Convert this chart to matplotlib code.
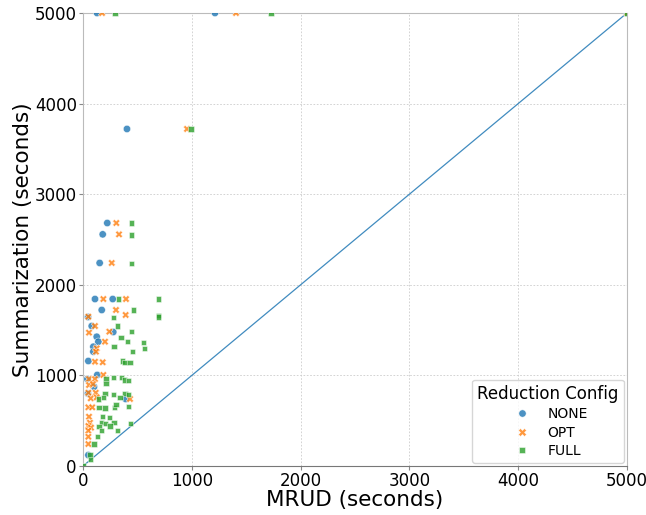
import matplotlib
matplotlib.use("Agg")
import matplotlib.pyplot as plt
import pandas as pd
import seaborn as sns

# MRUD time (x) and summarization time (y), seconds, per reduction config
none_x = [129, 1213, 5000, 404, 223, 181, 153, 110, 273, 172, 46, 80, 278, 126,
          141, 95, 95, 49, 131, 101, 392, 49, 40, 45]
none_y = [5000, 5000, 5000, 3720, 2682, 2557, 2241, 1843, 1843, 1722, 1645, 1545,
          1479, 1427, 1372, 1317, 1262, 1159, 1005, 875, 740, 121, 960, 800]

opt_x = [175, 1406, 5000, 956, 306, 331, 264, 187, 395, 303, 49, 392, 110, 55,
         242, 202, 126, 119, 110, 181, 187, 55, 110, 55, 92, 49, 117, 71, 126,
         432, 49, 85, 55, 64, 49, 74, 49, 49, 49]
opt_y = [5000, 5000, 5000, 3720, 2682, 2557, 2241, 1843, 1843, 1722, 1648, 1667,
         1545, 1472, 1483, 1372, 1299, 1262, 1151, 1145, 1005, 960, 960, 894, 905,
         809, 809, 747, 758, 740, 648, 648, 544, 478, 442, 423, 390, 323, 243]

full_x = [294, 1728, 5000, 993, 448, 448, 448, 328, 696, 462, 278, 692, 692, 319,
          448, 349, 411, 554, 285, 563, 457, 361, 386, 432, 211, 278, 356, 380,
          416, 211, 202, 278, 386, 416, 141, 187, 340, 147, 202, 288, 303, 416,
          177, 242, 172, 208, 285, 438, 147, 248, 172, 315, 135, 101, 64, 71, 5]
full_y = [5000, 5000, 5000, 3720, 2682, 2550, 2238, 1843, 1843, 1722, 1642, 1659,
          1645, 1545, 1483, 1421, 1372, 1361, 1317, 1299, 1262, 1159, 1140, 1140,
          960, 975, 975, 949, 942, 913, 803, 792, 803, 792, 740, 754, 754, 648,
          640, 648, 681, 655, 544, 538, 478, 471, 482, 471, 434, 442, 390, 390,
          323, 243, 121, 74, 5]

configs = ["NONE", "OPT", "FULL"]

df = pd.DataFrame({
    "MRUD": none_x + opt_x + full_x,
    "Summ": none_y + opt_y + full_y,
    "Reduction Config": [configs[0]] * len(none_x) + [configs[1]] * len(opt_x)
    + [configs[2]] * len(full_x),
})

fig = plt.figure(figsize=(6.46, 5.15), dpi=100)
ax = fig.add_axes([0.1285, 0.0951, 0.8421, 0.8797])

sns.scatterplot(data=df, x="MRUD", y="Summ", hue="Reduction Config",
                style="Reduction Config", hue_order=configs, style_order=configs,
                s=28, alpha=0.8, ax=ax, zorder=3)

# y = x reference line
ax.plot([0, 5000], [0, 5000], color="tab:blue", alpha=0.85, linewidth=0.9, zorder=2)

ax.set_xlim(0, 5000)
ax.set_ylim(0, 5000)
ax.set_xticks([0, 1000, 2000, 3000, 4000, 5000])
ax.set_yticks([0, 1000, 2000, 3000, 4000, 5000])
ax.tick_params(labelsize=12, color="#888888", length=3, pad=1.5)
ax.grid(True, linestyle=(0, (2, 2)), color="#cccccc", linewidth=0.6)
ax.set_axisbelow(True)
for side in ["left", "top", "right"]:
    ax.spines[side].set_color("#bbbbbb")
ax.spines["bottom"].set_color("#777777")

ax.set_xlabel("MRUD (seconds)", fontsize=15.5, labelpad=0)
ax.set_ylabel("Summarization (seconds)", fontsize=15.5, labelpad=1)

leg = ax.legend(title="Reduction Config", loc="lower right", fontsize=10,
                title_fontsize=12, labelspacing=0.3, borderaxespad=0.2)

fig.savefig("out.png", dpi=100)
